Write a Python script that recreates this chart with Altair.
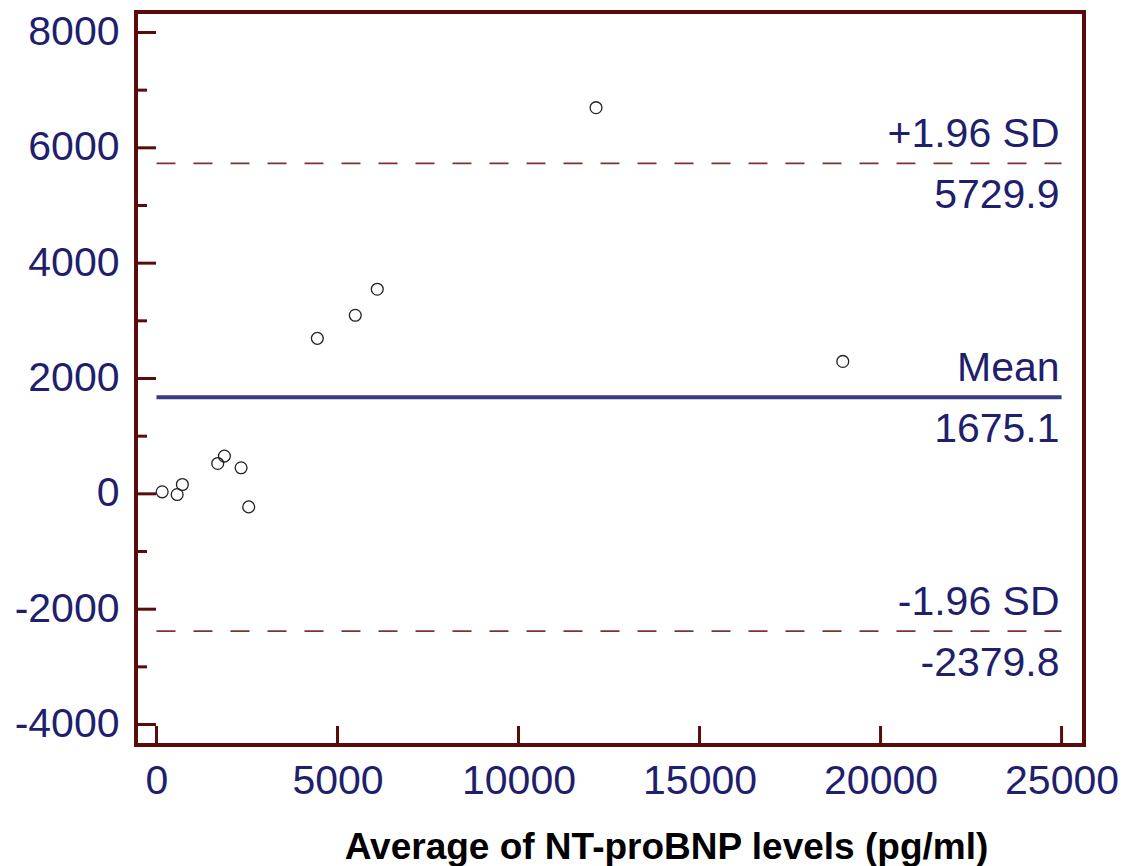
import altair as alt
import pandas as pd

# Data
avg_vals = [157, 571, 715, 1692, 1876, 2337, 2547, 4443, 5491, 6098, 12141, 18957]
diff_vals = [35, -12, 162, 527, 655, 452, -226, 2696, 3096, 3548, 6696, 2296]

line_vals = [5729.9, 1675.1, -2379.8]
line_names = ["+1.96 SD", "Mean", "-1.96 SD"]
line_nums = ["5729.9", "1675.1", "-2379.8"]

y_major = [-4000, -2000, 0, 2000, 4000, 6000, 8000]
y_minor = [-3000, -1000, 1000, 3000, 5000, 7000]
x_major = [0, 5000, 10000, 15000, 20000, 25000]

X_DOMAIN = [-566, 25620]
Y_DOMAIN = [-4355, 8355]
W, H = 948, 733

NAVY = "#1f1f6e"
MAROON = "#5a0c0c"
FONT = "Liberation Sans"
X_TITLE = "Average of NT-proBNP levels (pg/ml)"

pts = pd.DataFrame({"avg": avg_vals, "diff": diff_vals})
lines = pd.DataFrame({"y": line_vals, "name": line_names, "num": line_nums,
                      "x0": [0] * 3, "x1": [25000] * 3, "xt": [25000] * 3})
ymaj = pd.DataFrame({"y": y_major})
ymin = pd.DataFrame({"y": y_minor})
xmaj = pd.DataFrame({"x": x_major})

xs = alt.Scale(domain=X_DOMAIN, nice=False, zero=False)
ys = alt.Scale(domain=Y_DOMAIN, nice=False, zero=False)

HYPHEN_EXPR = "replace(datum.label, '\u2212', '-')"

XAXIS = alt.Axis(values=x_major, ticks=False, domain=False, grid=False,
                 labelFontSize=41, labelFont=FONT, labelColor=NAVY,
                 labelPadding=16, labelFlush=False, format="d",
                 titleFont=FONT, titleFontSize=37, titleFontWeight="bold",
                 titleColor="#000000", titleBaseline="alphabetic",
                 titleX=530, titleY=113, titleAlign="center")
YAXIS = alt.Axis(values=y_major, ticks=False, domain=False, grid=False,
                 labelFontSize=41, labelFont=FONT, labelColor=NAVY,
                 labelPadding=17, labelFlush=False, format="d",
                 labelExpr=HYPHEN_EXPR)


def xenc(field):
    return alt.X(field, type="quantitative", scale=xs, axis=XAXIS, title=X_TITLE)


def yenc(field):
    return alt.Y(field, type="quantitative", scale=ys, axis=YAXIS, title=None)


points = alt.Chart(pts).mark_point(
    shape="circle", size=140, filled=False, stroke="#222222", strokeWidth=1.3, opacity=1
).encode(x=xenc("avg"), y=yenc("diff"))

sd_lines = alt.Chart(lines.iloc[[0, 2]]).mark_rule(
    color="#7a3434", strokeWidth=1.6, strokeDash=[19, 18]
).encode(x=xenc("x0"), x2="x1:Q", y=yenc("y"))

mean_line = alt.Chart(lines.iloc[[1]]).mark_rule(
    color="#3a3a84", strokeWidth=4
).encode(x=xenc("x0"), x2="x1:Q", y=yenc("y"))

txt_above = alt.Chart(lines).mark_text(
    align="right", baseline="alphabetic", dy=-16, dx=-2,
    fontSize=41, font=FONT, color=NAVY
).encode(x=xenc("xt"), y=yenc("y"), text="name:N")

txt_below = alt.Chart(lines).mark_text(
    align="right", baseline="alphabetic", dy=45, dx=-2,
    fontSize=41, font=FONT, color=NAVY
).encode(x=xenc("xt"), y=yenc("y"), text="num:N")

ytick_major = alt.Chart(ymaj).mark_rule(color=MAROON, strokeWidth=3).encode(
    x=alt.value(0), x2=alt.value(20), y=yenc("y"))
ytick_minor = alt.Chart(ymin).mark_rule(color=MAROON, strokeWidth=3).encode(
    x=alt.value(0), x2=alt.value(11), y=yenc("y"))
xtick_major = alt.Chart(xmaj).mark_rule(color=MAROON, strokeWidth=3).encode(
    x=xenc("x"), y=alt.value(H), y2=alt.value(H - 19))

chart = alt.layer(
    sd_lines, mean_line, ytick_major, ytick_minor, xtick_major,
    txt_above, txt_below, points
).properties(
    width=W, height=H,
    background="white",
    padding={"left": 128, "top": 4, "right": 41, "bottom": 121},
    autosize=alt.AutoSizeParams(type="none"),
).configure_view(
    stroke=MAROON, strokeWidth=4
)

chart.save("out.html", embed_options={"renderer": "svg", "actions": False})
